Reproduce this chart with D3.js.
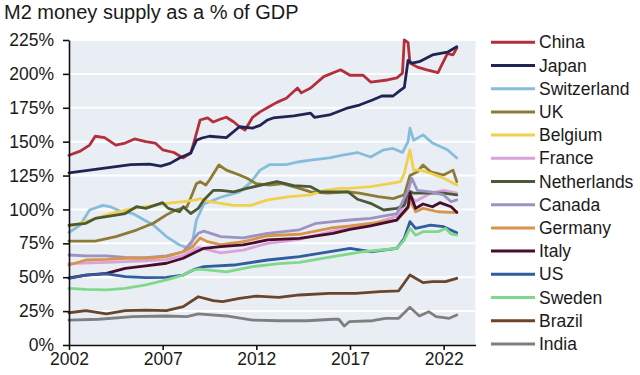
<!DOCTYPE html>
<html><head><meta charset="utf-8">
<script src="https://cdn.jsdelivr.net/npm/d3@7"></script>
<style>
html,body{margin:0;padding:0;background:#fff;}
svg{display:block;font-family:"Liberation Sans",Arial,sans-serif;}
</style></head>
<body><svg id="c" width="640" height="375"></svg>
<script>
const title = "M2 money supply as a % of GDP";
const countries = ["China","Japan","Switzerland","UK","Belgium","France","Netherlands","Canada","Germany","Italy","US","Sweden","Brazil","India"];
const yTicks = [0,25,50,75,100,125,150,175,200,225];
const xTicks = [2002,2007,2012,2017,2022];

const china = [[2002.0,140],[2002.6,143],[2003.1,147.5],[2003.4,154],[2003.9,153],[2004.5,147.5],[2005.0,149],[2005.5,152],[2006.1,150],[2006.6,149],[2007.0,144],[2007.6,142],[2008.1,138],[2008.5,141.6],[2008.7,151],[2009.0,166],[2009.4,167.5],[2009.7,164.5],[2010.1,166.7],[2010.4,168],[2010.8,164.5],[2011.1,161],[2011.4,158.6],[2011.8,168],[2012.2,172],[2012.7,176],[2013.1,179],[2013.6,182],[2014.2,189.6],[2014.4,186],[2014.9,189.6],[2015.6,198],[2016.5,203],[2017.0,199],[2017.7,199],[2018.1,194],[2019.0,195.5],[2019.5,197],[2019.8,200.6],[2019.9,225],[2020.1,223],[2020.2,208],[2020.6,205],[2021.1,203],[2021.7,201],[2021.9,206.6],[2022.2,215],[2022.5,214],[2022.7,219]];
const japan = [[2002.0,127],[2003.1,129],[2004.2,131],[2005.3,133],[2006.3,133.5],[2006.9,132],[2007.4,134],[2007.9,138],[2008.5,141.6],[2008.8,151],[2009.1,152.7],[2009.5,154],[2010.4,153],[2011.1,161],[2011.8,160],[2012.2,162],[2012.6,166],[2012.9,167.5],[2014.0,169],[2014.9,171],[2015.1,168],[2015.9,169.7],[2016.9,175],[2017.5,177],[2018.2,180.7],[2018.7,183.7],[2019.3,183.7],[2019.7,188],[2019.9,190],[2020.1,210],[2020.3,208],[2020.7,209],[2021.4,214],[2022.2,216],[2022.7,220]];
const switzerland = [[2002.0,83],[2002.6,88.5],[2003.1,99.6],[2003.8,103],[2004.2,102],[2004.7,99],[2005.4,97],[2006.5,88.5],[2007.2,80],[2007.9,73.8],[2008.4,71.3],[2008.6,77],[2008.8,92],[2009.2,104],[2010.1,109],[2011.1,113],[2011.7,120],[2012.2,129],[2012.7,133],[2013.6,133],[2014.2,135],[2015.0,136.5],[2015.9,138],[2016.6,140],[2017.4,142],[2018.1,138.7],[2018.8,144],[2019.3,145],[2019.8,142],[2020.1,150],[2020.2,160],[2020.4,151],[2020.9,155],[2021.4,149],[2022.2,144],[2022.7,138]];
const uk = [[2002.0,76.7],[2003.4,76.7],[2004.5,80],[2005.6,84.8],[2006.5,89.8],[2007.2,96],[2007.7,99.6],[2008.3,102],[2008.6,112],[2008.8,119],[2009.0,120.5],[2009.3,118],[2009.5,121.7],[2010.0,132.8],[2010.4,129],[2011.1,125.4],[2011.5,123],[2012.0,119],[2012.7,118],[2013.4,119],[2014.3,115.6],[2014.9,113],[2015.8,112],[2016.9,113],[2017.5,112],[2018.5,109.4],[2019.3,108],[2019.9,110.7],[2020.2,125],[2020.6,127.8],[2020.9,132.8],[2021.3,127.8],[2022.0,125.4],[2022.5,129],[2022.7,120.5]];
const belgium = [[2002.0,87.3],[2002.9,91],[2004.0,96],[2005.0,99.6],[2006.1,102],[2007.2,104.5],[2008.1,105.7],[2008.8,107],[2009.0,108],[2009.5,105.7],[2010.8,103],[2011.7,103],[2012.6,107],[2013.8,109.4],[2014.9,110.7],[2015.6,114],[2016.5,115.6],[2017.0,115.6],[2018.1,116.8],[2019.1,119],[2019.7,120.5],[2019.9,126.7],[2020.2,143.9],[2020.4,129],[2020.75,129],[2021.3,126.7],[2022.0,123],[2022.7,118]];
const france = [[2002.0,60],[2004.0,61],[2006.0,62],[2007.2,63],[2008.1,66],[2008.9,72],[2009.5,70],[2010.1,68],[2011.3,70],[2012.6,75],[2014.3,78],[2016.1,84],[2018.1,89],[2019.5,95],[2020.2,110],[2020.5,106],[2021.3,112],[2022.0,114],[2022.7,112]];
const netherlands = [[2002.0,88.5],[2002.9,89.8],[2003.4,93.4],[2004.0,94.7],[2005.0,97],[2005.6,102],[2006.1,100.8],[2007.0,105],[2007.3,100.8],[2007.9,98.3],[2008.1,102],[2008.5,97],[2008.9,100.8],[2009.2,107],[2009.7,114],[2010.1,114],[2010.8,113],[2011.5,115.6],[2012.6,119],[2013.1,120.5],[2014.0,117.5],[2014.9,116.8],[2015.4,113],[2016.3,113],[2016.9,113],[2017.4,107.5],[2018.1,104.5],[2018.8,99.6],[2019.5,100.8],[2019.9,103],[2020.1,114],[2020.4,112],[2021.1,112],[2022.0,112],[2022.7,110.7]];
const canada = [[2002.0,66.4],[2002.9,65.7],[2004.0,65.7],[2005.0,64.7],[2006.1,64.5],[2007.2,65.7],[2008.1,68.8],[2008.9,82.4],[2009.2,84],[2010.1,80],[2011.3,79],[2012.6,82.4],[2014.3,85],[2015.2,89.8],[2016.1,91],[2017.0,92.2],[2018.1,93.4],[2019.5,97],[2020.1,114],[2020.3,123],[2020.6,114],[2021.3,113],[2022.0,110.7],[2022.4,105.7],[2022.7,107]];
const germany = [[2002.0,59],[2002.9,62.7],[2004.0,63.2],[2005.0,64],[2006.1,64],[2007.2,65.2],[2008.1,68.8],[2008.6,72.5],[2009.0,79],[2009.4,76.2],[2010.1,74],[2011.3,76.2],[2012.6,80.6],[2014.3,81.7],[2016.1,86.5],[2017.0,87.8],[2018.1,89.8],[2019.5,92.2],[2020.1,100.8],[2020.2,107],[2020.5,98.3],[2020.9,100.8],[2021.7,98.3],[2022.7,97.6]];
const italy = [[2002.0,49.5],[2002.9,51.6],[2004.0,52.9],[2005.0,56.6],[2006.1,58.3],[2007.2,60.3],[2008.1,64],[2008.8,68.8],[2009.2,71.3],[2010.1,72.5],[2011.3,73.8],[2012.6,77.5],[2014.3,78.7],[2016.1,82.4],[2017.0,85.3],[2018.1,87.8],[2019.5,92.2],[2020.1,102],[2020.2,112],[2020.5,100.8],[2020.9,104],[2021.4,102],[2021.8,105],[2022.4,102],[2022.7,98]];
const us = [[2002.0,49.2],[2002.9,51.6],[2004.0,52.4],[2005.0,50.4],[2006.1,49.7],[2007.2,49.9],[2008.1,51.6],[2008.7,55.8],[2009.2,57.8],[2010.8,59],[2012.6,62.7],[2014.3,65.2],[2016.1,69.3],[2017.0,71.3],[2018.1,68.8],[2019.5,71.3],[2019.9,78.7],[2020.2,91],[2020.5,86],[2021.3,88.5],[2022.0,87.3],[2022.7,82.8]];
const sweden = [[2002.0,41.8],[2002.9,41],[2004.0,40.6],[2005.0,41.8],[2006.1,44.3],[2007.2,48],[2008.1,51.6],[2008.6,55.3],[2009.0,56],[2010.4,54],[2011.8,57.8],[2013.2,60],[2014.3,61],[2016.0,65],[2017.7,68.8],[2019.5,71.3],[2019.9,77.5],[2020.2,86],[2020.5,81],[2020.9,83.6],[2021.7,83.6],[2022.1,86],[2022.4,81.9],[2022.7,81]];
const brazil = [[2002.0,23.8],[2002.9,25.3],[2004.0,22.9],[2005.0,25.3],[2006.1,25.8],[2007.2,25.3],[2008.1,28.3],[2008.9,35.6],[2009.7,32.7],[2010.2,32],[2011.1,34.4],[2012.0,36.1],[2013.2,35.2],[2014.3,36.9],[2015.9,38.1],[2017.3,38.1],[2018.6,39.3],[2019.6,40],[2020.2,51.6],[2020.9,46],[2021.4,46.7],[2022.1,46.7],[2022.7,49.2]];
const india = [[2002.0,18.4],[2003.6,19],[2005.4,20.9],[2007.2,21.4],[2008.3,20.9],[2008.9,22.9],[2010.4,21.4],[2011.8,18.4],[2013.2,17.9],[2014.7,17.9],[2016.1,19],[2016.4,19],[2016.7,14],[2016.96,17.2],[2018.2,17.9],[2018.9,19.7],[2019.6,19.7],[2020.2,27.8],[2020.7,21.4],[2021.2,24.6],[2021.6,20.9],[2022.3,19.7],[2022.7,22.1]];

const seriesValues = [china,japan,switzerland,uk,belgium,france,netherlands,canada,germany,italy,us,sweden,brazil,india];
const colors = ["#b22f3b","#1f2452","#86bddb","#8c7a35","#f0d04c","#d9a2d9","#4b5a35","#9c93c3","#d8944a","#4a0c2c","#2f5d9d","#80d98b","#6b4429","#7f7f7f"];

const svg = d3.select("#c");
const fontSize = 17.5;
const x = d3.scaleLinear().domain([2002, 2023.7]).range([69, 475.5]);
const y = d3.scaleLinear().domain([0, 225]).range([345, 40]);

svg.append("text").attr("x", 4).attr("y", 18.5).attr("font-size", 20).attr("fill", "#1a1a1a").text(title);

svg.append("rect").attr("x", x(2002)).attr("y", y(225)).attr("width", x.range()[1]-x(2002)).attr("height", y(0)-y(225)).attr("fill", "#e9eef5");

svg.append("g").selectAll("line").data(yTicks.filter(d=>d>0)).join("line")
  .attr("x1", x(2002)).attr("x2", x.range()[1]).attr("y1", d=>y(d)).attr("y2", d=>y(d))
  .attr("stroke", "#fff").attr("stroke-width", 2);

const line = d3.line().x(d=>x(d[0])).y(d=>y(d[1]));
svg.append("g").selectAll("path").data(seriesValues).join("path")
  .attr("d", line).attr("fill","none").attr("stroke",(d,i)=>colors[i])
  .attr("stroke-width", 2.8).attr("stroke-linejoin","round").attr("stroke-linecap","round");

const yAxis = svg.append("g").attr("transform", `translate(${x(2002)},0)`)
  .call(d3.axisLeft(y).tickValues(yTicks).tickFormat(d=>d+"%").tickSize(6).tickPadding(9).tickSizeOuter(0));
const xAxis = svg.append("g").attr("transform", `translate(0,${y(0)})`)
  .call(d3.axisBottom(x).tickValues(xTicks).tickFormat(d3.format("d")).tickSize(5).tickPadding(3).tickSizeOuter(0));
[yAxis, xAxis].forEach(g=>{
  g.selectAll("path,line").attr("stroke","#111").attr("stroke-width",1.6);
  g.selectAll("text").attr("font-size", fontSize).attr("fill","#1a1a1a").attr("font-family",'"Liberation Sans",Arial,sans-serif');
});

const leg = svg.append("g").selectAll("g").data(countries).join("g")
  .attr("transform",(d,i)=>`translate(0,${42.3 + i*23.2})`);
leg.append("line").attr("x1",491).attr("x2",535).attr("y1",0).attr("y2",0)
  .attr("stroke",(d,i)=>colors[i]).attr("stroke-width",3);
leg.append("text").attr("x",539).attr("y",0).attr("dy","0.35em").attr("font-size",fontSize).attr("fill","#1a1a1a").text(d=>d);
</script></body></html>
